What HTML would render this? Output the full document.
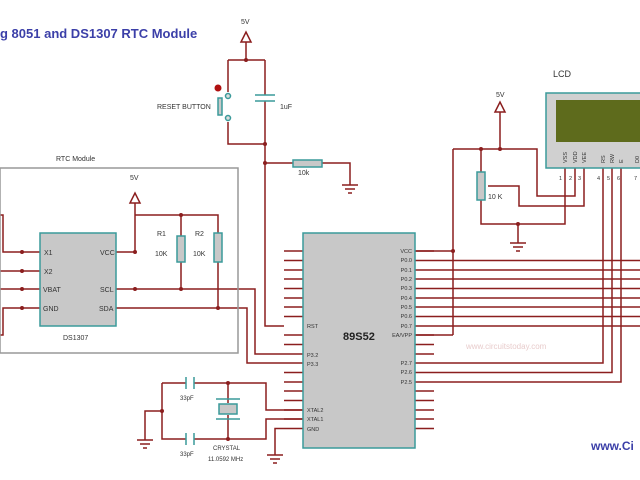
<!DOCTYPE html>
<html><head><meta charset="utf-8"><style>
html,body{margin:0;padding:0;background:#fff;width:640px;height:480px;overflow:hidden}
svg{display:block}
text{font-family:"Liberation Sans",sans-serif}
</style></head><body>
<svg width="640" height="480" viewBox="0 0 640 480" xmlns="http://www.w3.org/2000/svg">
<g fill="none" stroke="#8b1e1e" stroke-width="1.5">
<!-- reset circuit -->
<path d="M246 42V60M228 60H265M228 60V92M228 122V144H265M265 60V95M265 101V326H284"/>
<path d="M265 163H293M322 163H350V185"/>
<path d="M342 185H358M345 189H355M348 193H352"/>
<!-- MCU pins left -->
<path d="M284 251H303M284 260.5H303M284 270H303M284 279H303M284 288.5H303M284 298H303M284 307H303M284 316.5H303M284 335H303M284 344.5H303M284 372.5H303M284 382H303M284 391H303M284 400.5H303M284 410H303M284 419H303M284 428.5H303"/>
<!-- MCU pins right -->
<path d="M415 251H434M415 335H434M415 344.5H434M415 354H434M415 391H434M415 400.5H434M415 410H434M415 419H434M415 428.5H434"/>
<path d="M415 251H453M415 335H453M453 149V335M453 149H537V196H575V168"/>
<path d="M415 260.5H640M415 270H640M415 279H640M415 288.5H640M415 298H640M415 307H640M415 316.5H640M415 326H640"/>
<path d="M415 363H603V168M415 372.5H612V168M415 382H621V168"/>
<!-- pot -->
<path d="M500 112V149M481 149V172M481 200V224H565V168M518 224V243M488 186H519V206H584V168"/>
<path d="M510 243H526M513 247H523M516 251H520"/>
<!-- RTC -->
<path d="M22 252H40M22 271H40M22 289H40M22 308H40M116 252H135V203M135 215H218V233M181 215V236M181 262V289M218 262V308"/>
<path d="M22 252H3V215H0M22 271H0M22 289H0M22 308H3V335H0"/>
<path d="M116 289H255V354H303M116 308H247V363H303"/>
<!-- crystal -->
<path d="M162 383H186M194 383H266V410H303M162 383V439H186M194 439H266V419H303M228 383V403M228 415V439M162 411H145V440M284 428.5H275V455"/>
<path d="M137 440H153M140 444H150M143 448H147M267 455H283M270 459H280M273 463H277"/>
</g>
<!-- dots -->
<g fill="#8b1e1e">
<circle cx="246" cy="60" r="2"/><circle cx="265" cy="144" r="2"/><circle cx="265" cy="163" r="2"/>
<circle cx="453" cy="251" r="2"/><circle cx="481" cy="149" r="2"/><circle cx="500" cy="149" r="2"/><circle cx="518" cy="224" r="2"/>
<circle cx="135" cy="252" r="2"/><circle cx="181" cy="215" r="2"/><circle cx="135" cy="289" r="2"/><circle cx="181" cy="289" r="2"/><circle cx="218" cy="308" r="2"/>
<circle cx="22" cy="252" r="2"/><circle cx="22" cy="271" r="2"/><circle cx="22" cy="289" r="2"/><circle cx="22" cy="308" r="2"/>
<circle cx="162" cy="411" r="2"/><circle cx="228" cy="383" r="2"/><circle cx="228" cy="439" r="2"/>
<circle cx="218" cy="88" r="3.5" fill="#b01010"/>
</g>
<!-- power arrows -->
<g fill="none" stroke="#8b1e1e" stroke-width="1.5">
<path d="M241 42L246 32L251 42Z"/><path d="M495 112L500 102L505 112Z"/><path d="M130 203L135 193L140 203Z"/>
</g>
<!-- components -->
<g stroke="#3a9a9a" stroke-width="1.5" fill="#c8c8c8">
<rect x="303" y="233" width="112" height="215"/>
<rect x="40" y="233" width="76" height="93"/>
<rect x="293" y="160" width="29" height="7"/>
<rect x="177" y="236" width="8" height="26"/>
<rect x="214" y="233" width="8" height="29"/>
<rect x="477" y="172" width="8" height="28"/>
<rect x="218" y="98" width="4" height="17"/>
<rect x="219" y="404" width="18" height="10"/>
<rect x="546" y="93" width="96" height="75" fill="#d0d0d0"/>
</g>
<rect x="556" y="100" width="86" height="42" fill="#5e6b1c"/>
<g stroke="#3a9a9a" stroke-width="1.5" fill="none">
<path d="M255 95H275M255 101H275M186 377V389M194 377V389M186 433V445M194 433V445M216 399H240M216 419H240"/>
<circle cx="228" cy="96" r="2.5" fill="#ddd"/><circle cx="228" cy="118" r="2.5" fill="#ddd"/>
</g>
<rect x="0" y="168" width="238" height="185" fill="none" stroke="#999" stroke-width="1.5"/>
<!-- text -->
<text x="0" y="38" font-size="13" font-weight="bold" fill="#3b3fa8">g 8051 and DS1307 RTC Module</text>
<g font-size="7" fill="#333">
<text x="241" y="24">5V</text><text x="496" y="97">5V</text><text x="130" y="180">5V</text>
<text x="157" y="109">RESET BUTTON</text><text x="280" y="109">1uF</text><text x="298" y="175">10k</text>
<text x="56" y="161">RTC Module</text><text x="63" y="340">DS1307</text>
<text x="44" y="255">X1</text><text x="44" y="274">X2</text><text x="43" y="292">VBAT</text><text x="43" y="311">GND</text>
<text x="100" y="255">VCC</text><text x="100" y="292">SCL</text><text x="99" y="311">SDA</text>
<text x="157" y="236">R1</text><text x="155" y="256">10K</text><text x="195" y="236">R2</text><text x="193" y="256">10K</text>
<text x="488" y="199">10 K</text><text x="553" y="77" font-size="9">LCD</text>
<text x="180" y="400" font-size="6">33pF</text><text x="180" y="456" font-size="6">33pF</text>
<text x="213" y="450" font-size="6">CRYSTAL</text><text x="208" y="461" font-size="6">11.0592 MHz</text>
</g>
<g font-size="5.5" fill="#333">
<text x="307" y="328">RST</text><text x="307" y="357">P3.2</text><text x="307" y="366">P3.3</text>
<text x="307" y="412">XTAL2</text><text x="307" y="421">XTAL1</text><text x="307" y="431">GND</text>
<text x="412" y="253" text-anchor="end">VCC</text><text x="412" y="262" text-anchor="end">P0.0</text><text x="412" y="272" text-anchor="end">P0.1</text><text x="412" y="281" text-anchor="end">P0.2</text><text x="412" y="290" text-anchor="end">P0.3</text><text x="412" y="300" text-anchor="end">P0.4</text><text x="412" y="309" text-anchor="end">P0.5</text><text x="412" y="318" text-anchor="end">P0.6</text><text x="412" y="328" text-anchor="end">P0.7</text><text x="412" y="337" text-anchor="end">EA/VPP</text>
<text x="412" y="365" text-anchor="end">P2.7</text><text x="412" y="374" text-anchor="end">P2.6</text><text x="412" y="384" text-anchor="end">P2.5</text>
<text x="559" y="180">1</text><text x="569" y="180">2</text><text x="578" y="180">3</text><text x="597" y="180">4</text><text x="607" y="180">5</text><text x="617" y="180">6</text><text x="634" y="180">7</text>
<text transform="translate(567,163) rotate(-90)">VSS</text><text transform="translate(577,163) rotate(-90)">VDD</text><text transform="translate(586,163) rotate(-90)">VEE</text>
<text transform="translate(605,163) rotate(-90)">RS</text><text transform="translate(614,163) rotate(-90)">RW</text><text transform="translate(623,163) rotate(-90)">E</text><text transform="translate(639,163) rotate(-90)">D0</text>
</g>
<text x="343" y="340" font-size="11" font-weight="bold" fill="#222">89S52</text>
<text x="466" y="349" font-size="8" fill="#e8cccc">www.circuitstoday.com</text>
<text x="591" y="450" font-size="12" font-weight="bold" fill="#3b3fa8">www.Ci</text>
</svg>
</body></html>
